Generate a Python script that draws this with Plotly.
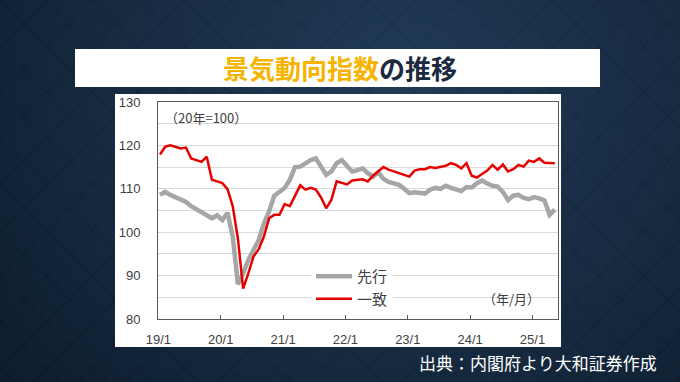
import base64, struct, zlib
import numpy as np
import plotly.graph_objects as go

# ---------------- data ----------------
months = list(range(77))  # 2019/1 .. 2025/5
leading = [108.6, 109.3, 108.6, 108.0, 107.5, 107.0, 106.0, 105.3, 104.6, 104.0,
           103.2, 103.9, 102.8, 104.5, 99.0, 88.0, 90.5, 93.6, 95.9, 98.2,
           102.0, 104.8, 108.4, 109.4, 110.2, 112.1, 115.0, 115.1, 115.9, 116.6,
           117.0, 115.0, 113.2, 114.0, 115.9, 116.6, 115.3, 114.0, 114.3, 114.7,
           113.6, 112.8, 113.8, 112.3, 111.6, 111.2, 110.9, 110.0, 109.0, 109.2,
           109.0, 108.9, 109.8, 110.2, 110.0, 110.7, 110.2, 109.8, 109.5, 110.4,
           110.3, 111.3, 111.9, 111.2, 110.7, 110.5, 109.3, 107.4, 108.4, 108.6,
           107.9, 107.6, 108.1, 107.8, 107.3, 104.0, 105.2]
coincident = [117.9, 119.7, 120.0, 119.7, 119.3, 119.5, 117.0, 116.6, 116.2, 117.4,
              112.1, 111.7, 111.3, 109.9, 106.0, 98.5, 87.0, 90.5, 94.4, 96.1,
              99.0, 103.2, 104.0, 104.0, 106.5, 106.0, 108.3, 110.8, 109.8, 110.2,
              109.8, 108.0, 105.5, 107.5, 111.7, 111.3, 111.0, 111.9, 112.1, 112.2,
              111.7, 113.0, 114.0, 115.0, 114.4, 114.0, 113.7, 113.2, 112.8, 114.2,
              114.5, 114.5, 115.0, 114.8, 115.0, 115.3, 115.9, 115.5, 114.7, 115.9,
              113.0, 112.6, 113.4, 114.2, 115.5, 114.4, 115.6, 114.0, 114.5, 115.5,
              115.1, 116.5, 116.2, 117.0, 116.0, 116.0, 115.9]
series_names = ["先行", "一致"]
x_tick_labels = ["19/1", "20/1", "21/1", "22/1", "23/1", "24/1", "25/1"]
y_tick_vals = [80, 85, 90, 95, 100, 105, 110, 115, 120, 125, 130]
y_tick_text = ["80", "", "90", "", "100", "", "110", "", "120", "", "130"]

# ---------------- background image (gradient + diagonal pattern) ----------------
W, H = 680, 382
yy, xx = np.mgrid[0:H, 0:W].astype(float)
d = np.sqrt(((xx - 400) / 1.0) ** 2 + ((yy - 90) / 0.9) ** 2)
t = np.clip(d / 520.0, 0, 1)
c0 = np.array([34, 60, 88], float)
c1 = np.array([14, 29, 46], float)
img = c0[None, None, :] * (1 - t[..., None]) + c1[None, None, :] * t[..., None]
sp = 46.0
p1 = np.abs(((xx + yy) % sp) - sp / 2) / (sp / 2)
p2 = np.abs(((xx - yy) % sp) - sp / 2) / (sp / 2)
line = np.clip((p1 - 0.93) / 0.07, 0, 1) + np.clip((p2 - 0.93) / 0.07, 0, 1)
img = img - 5 * np.clip(line, 0, 1)[..., None]
img = np.clip(img, 0, 255).astype(np.uint8)


def to_png(a):
    h, w, _ = a.shape
    raw = b"".join(b"\x00" + a[r].tobytes() for r in range(h))

    def chunk(tag, data):
        c = struct.pack(">I", len(data)) + tag + data
        return c + struct.pack(">I", zlib.crc32(tag + data) & 0xFFFFFFFF)

    return (b"\x89PNG\r\n\x1a\n" + chunk(b"IHDR", struct.pack(">IIBBBBB", w, h, 8, 2, 0, 0, 0))
            + chunk(b"IDAT", zlib.compress(raw, 9)) + chunk(b"IEND", b""))


bg_uri = "data:image/png;base64," + base64.b64encode(to_png(img)).decode()


def px(x):
    return x / W


def py(y):
    return 1 - y / H


# ---------------- figure ----------------
fig = go.Figure()
fig.add_trace(go.Scatter(x=months, y=leading, mode="lines", name=series_names[0],
                         line=dict(color="#a6a6a6", width=4.5)))
fig.add_trace(go.Scatter(x=months, y=coincident, mode="lines", name=series_names[1],
                         line=dict(color="#e60000", width=2.5)))

tick_pos = [12 * k - 0.3 for k in range(len(x_tick_labels))]

fig.update_layout(
    width=W, height=H,
    margin=dict(l=0, r=0, t=0, b=0, pad=0),
    paper_bgcolor="#1b3048",
    plot_bgcolor="white",
    font=dict(family="Liberation Sans, Arial, Noto Sans CJK JP", size=13, color="#404040"),
    showlegend=True,
    legend=dict(x=px(311), y=py(260), xanchor="left", yanchor="top",
                bgcolor="white", borderwidth=0,
                font=dict(family="Noto Sans CJK JP", size=15, color="#404040"),
                itemwidth=36, tracegroupgap=0),
    xaxis=dict(domain=[px(158), px(558)], range=[-0.385, 76.615],
               tickvals=tick_pos, ticktext=x_tick_labels,
               ticks="inside", ticklen=4, tickcolor="#595959",
               showgrid=False, zeroline=False, automargin=False,
               showline=True, linecolor="#595959", linewidth=1, mirror=True,
               ticklabelstandoff=8,
               tickfont=dict(size=13, color="#404040")),
    yaxis=dict(domain=[py(319), py(102)], range=[80, 130],
               tickvals=y_tick_vals, ticktext=y_tick_text, automargin=False,
               ticks="", showgrid=True, gridcolor="#d9d9d9", gridwidth=1,
               zeroline=False, showline=True, linecolor="#595959", linewidth=1, mirror=True,
               ticklabelstandoff=14,
               tickfont=dict(size=13, color="#404040")),
    images=[dict(source=bg_uri, xref="paper", yref="paper", x=0, y=1, sizex=1, sizey=1,
                 sizing="stretch", layer="below", xanchor="left", yanchor="top")],
    shapes=[
        dict(type="rect", xref="paper", yref="paper", x0=px(75), x1=px(600), y0=py(87), y1=py(49),
             fillcolor="white", line=dict(width=0), layer="below"),
        dict(type="rect", xref="paper", yref="paper", x0=px(115), x1=px(561), y0=py(347), y1=py(94),
             fillcolor="white", line=dict(width=0), layer="below"),
    ],
    annotations=[
        dict(xref="paper", yref="paper", x=px(340), y=py(68), xanchor="center", yanchor="middle",
             showarrow=False,
             text="<b><span style='color:#f5b400'>景気動向指数</span><span style='color:#1b2a3e'>の推移</span></b>",
             font=dict(family="Noto Sans CJK JP", size=26)),
        dict(xref="paper", yref="paper", x=px(163), y=py(118), xanchor="left", yanchor="middle",
             showarrow=False, text="（20年=100）",
             font=dict(family="Noto Sans CJK JP", size=13, color="#404040")),
        dict(xref="paper", yref="paper", x=px(542), y=py(298), xanchor="right", yanchor="middle",
             showarrow=False, text="（年/月）",
             font=dict(family="Noto Sans CJK JP", size=13, color="#404040")),
        dict(xref="paper", yref="paper", x=px(659), y=py(362), xanchor="right", yanchor="middle",
             showarrow=False, text="出典：内閣府より大和証券作成",
             font=dict(family="Noto Sans CJK JP", size=17, color="white")),
    ],
)

fig.write_html("out.html", config={"displayModeBar": False},
               post_script="document.body.style.margin='0';document.body.style.overflow='hidden';")
